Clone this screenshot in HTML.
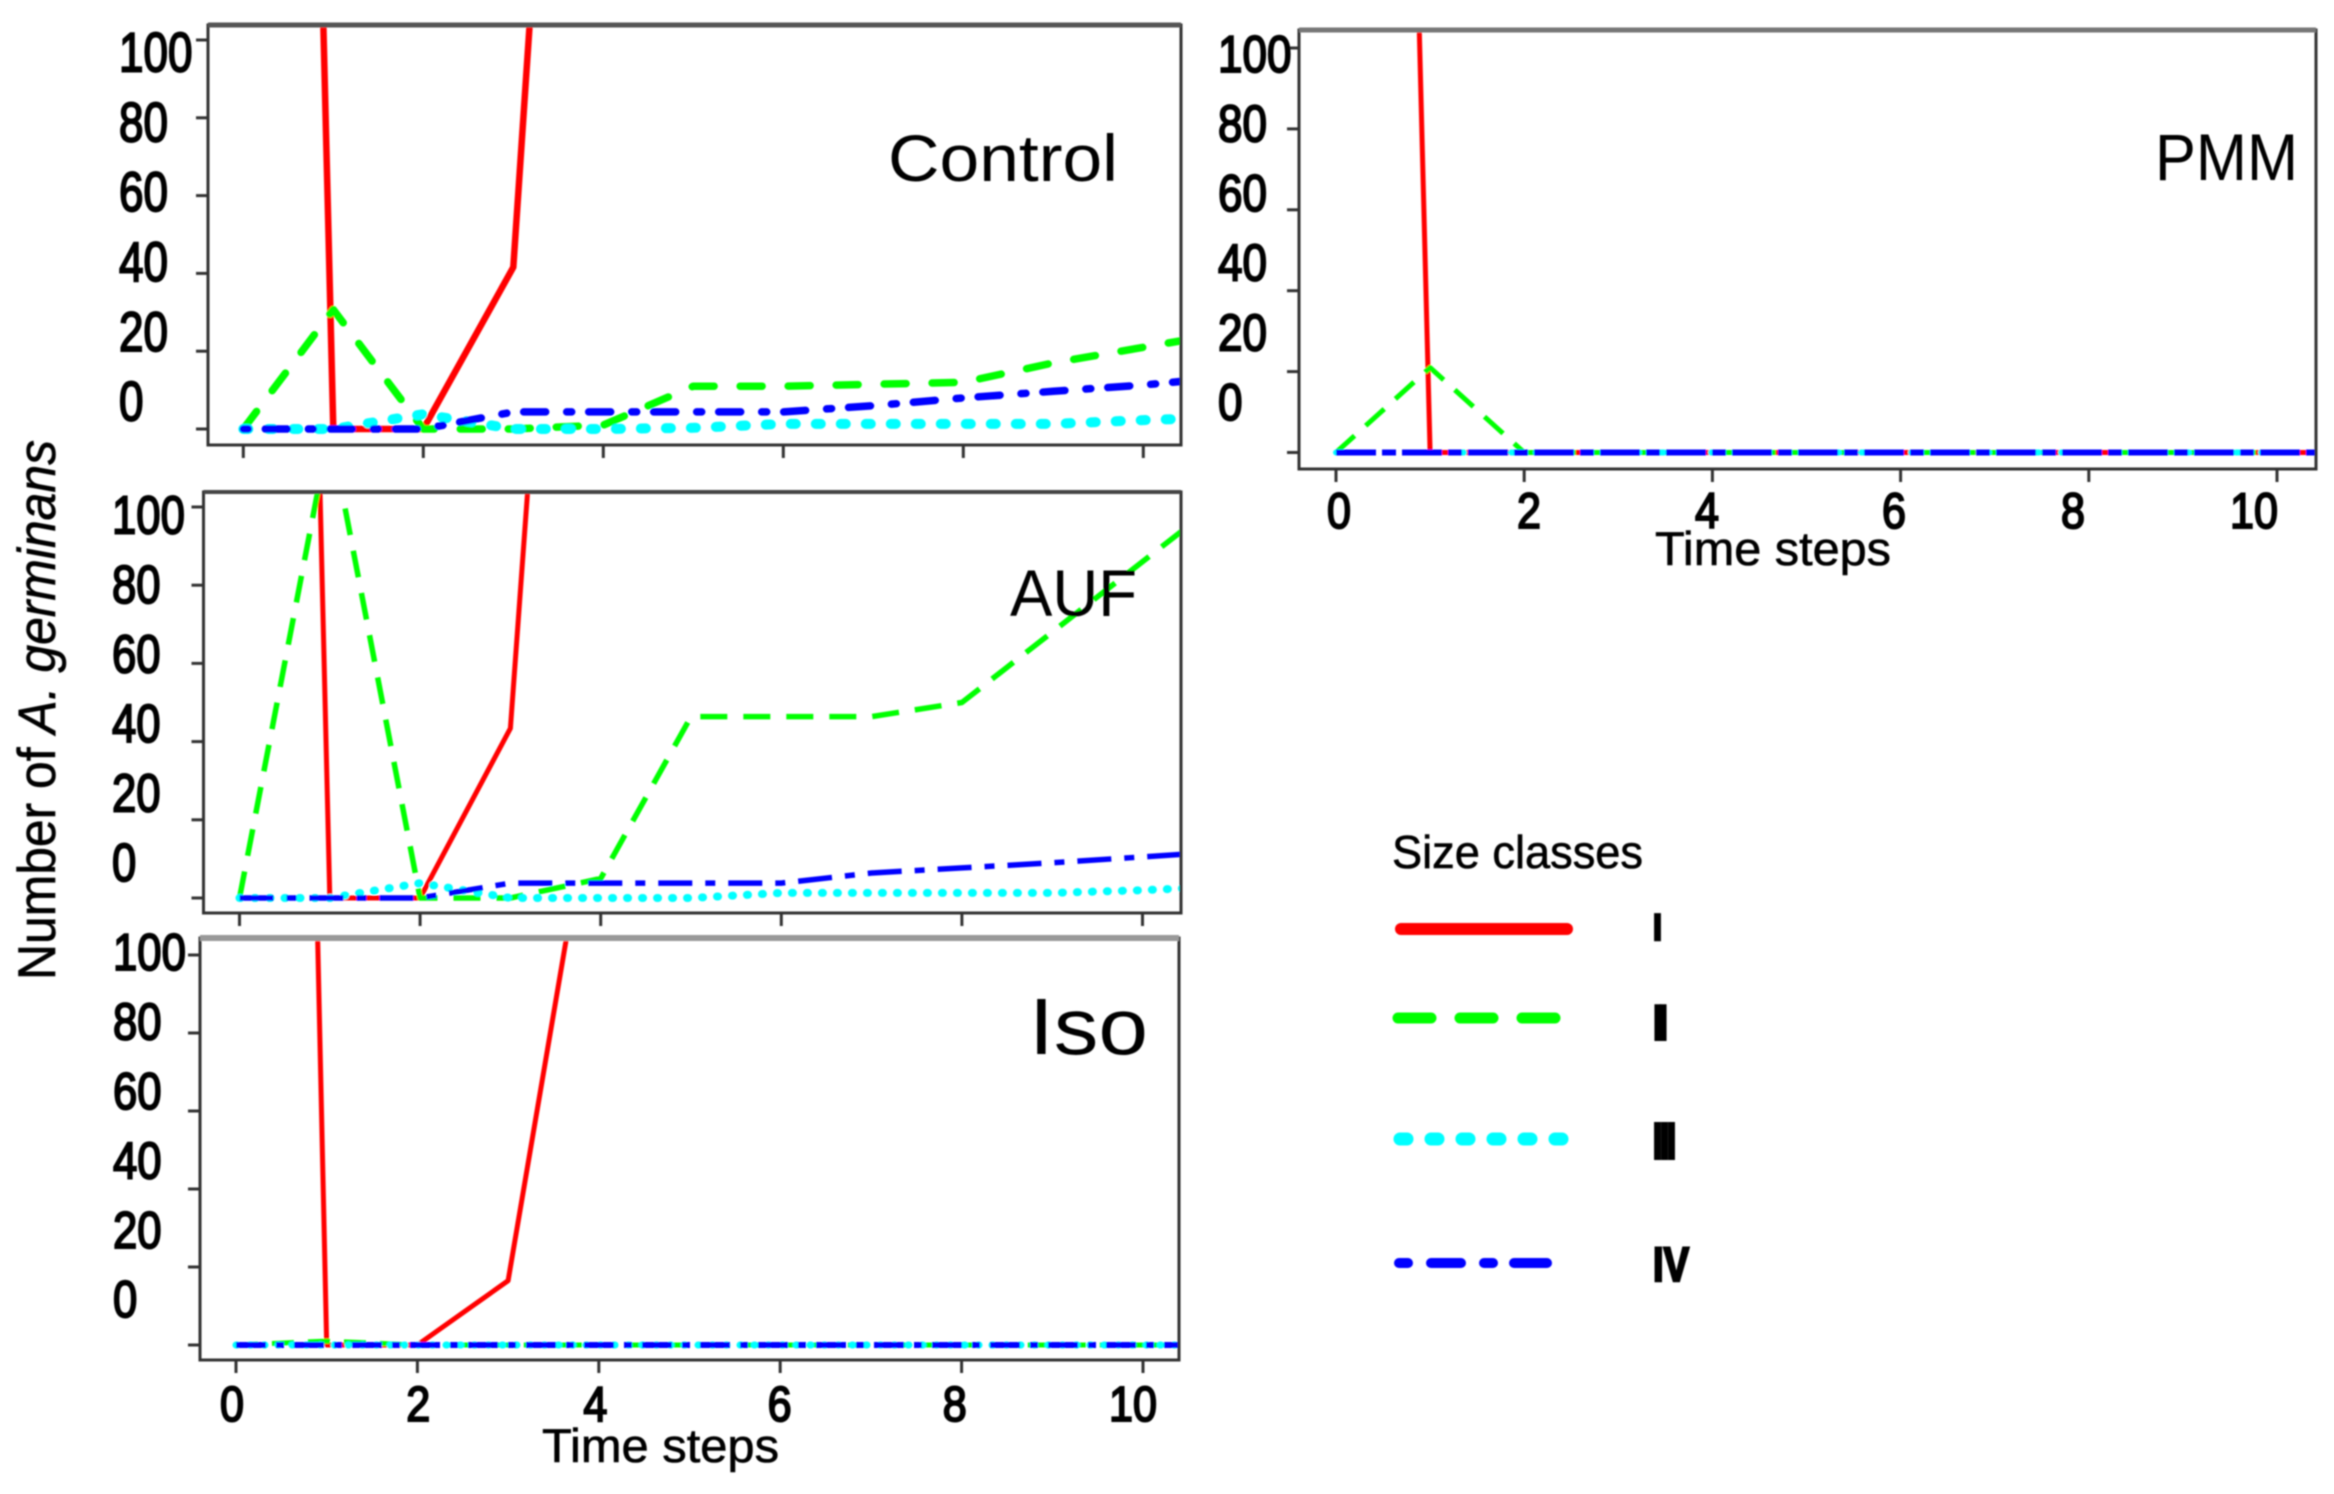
<!DOCTYPE html>
<html lang="en">
<head>
<meta charset="utf-8">
<title>Number of A. germinans over time steps</title>
<style>
html,body{margin:0;padding:0;background:#fff;}
#figure{display:block;width:2334px;height:1494px;}
text{font-family:"Liberation Sans",sans-serif;fill:#000;}
.num{font-family:"Liberation Sans Narrow","Liberation Sans",sans-serif;stroke:#000;stroke-width:2px;}
.ttl{stroke:#000;stroke-width:.6px;}
.rom{font-weight:bold;stroke:#000;}
</style>
</head>
<body>
<svg id="figure" xmlns="http://www.w3.org/2000/svg" width="2334" height="1494" viewBox="0 0 2334 1494">
  <defs>
    <filter id="soft" x="0" y="0" width="2334" height="1494" filterUnits="userSpaceOnUse"><feGaussianBlur stdDeviation="0.8"/></filter>
  </defs>
  <rect x="0" y="0" width="2334" height="1494" fill="#fff"/>
  <g id="root" filter="url(#soft)">
    <text class="ttl" transform="translate(55,980) rotate(-90)" font-size="53" textLength="540" lengthAdjust="spacingAndGlyphs">Number of <tspan font-style="italic">A. germinans</tspan></text>

    <g>
      <text class="ttl" x="1392" y="868" font-size="46" textLength="251" lengthAdjust="spacingAndGlyphs">Size classes</text>
      <line x1="1401" y1="929" x2="1567" y2="929" stroke="#ff0000" stroke-width="12" stroke-linecap="round"/>
      <line x1="1398" y1="1018" x2="1555" y2="1018" stroke="#00ff00" stroke-width="11" stroke-linecap="round" stroke-dasharray="33 29"/>
      <line x1="1400" y1="1139" x2="1562" y2="1139" stroke="#00ffff" stroke-width="13" stroke-linecap="round" stroke-dasharray="7 24"/>
      <path d="M1399 1263H1408M1431 1263H1461M1484 1263H1493M1514 1263H1547" fill="none" stroke="#0000ff" stroke-width="10" stroke-linecap="round"/>
      <text class="rom" x="1653" y="940" font-size="37" textLength="9" lengthAdjust="spacingAndGlyphs" style="stroke-width:2.5px">I</text>
      <text class="rom" x="1655" y="1037" font-size="42" textLength="11" lengthAdjust="spacingAndGlyphs" style="stroke-width:8px">II</text>
      <text class="rom" x="1654" y="1157" font-size="46" textLength="21" lengthAdjust="spacingAndGlyphs" style="stroke-width:6px">III</text>
      <text class="rom" x="1653" y="1281" font-size="48" textLength="36" lengthAdjust="spacingAndGlyphs" style="stroke-width:2.5px">IV</text>
    </g>
  </g>
</svg>
<script>
var timeSteps = [0, 1, 2, 3, 4, 5, 6, 7, 8, 9, 10, 11];
var yTickValues = [0, 20, 40, 60, 80, 100];
var xTickValues = [0, 2, 4, 6, 8, 10];

var controlClassI   = [940, 0, 0, 41.6, 385, 600, 700, 800, 900, 950, 1000, 1050];
var controlClassII  = [0, 30.7, 0, 0, 1, 11, 11, 11.5, 12, 17, 21, 25];
var controlClassIII = [0, 0, 3.8, 0, 0, 0.3, 1.3, 1.3, 1.3, 1.3, 2.3, 3];
var controlClassIV  = [0, 0, 0, 4.4, 4.4, 4.4, 4.4, 6, 8, 9.7, 11.3, 13.5];

var pmmClassI   = [908, 0, 0, 0, 0, 0, 0, 0, 0, 0, 0, 0];
var pmmClassII  = [0, 21, 0, 0, 0, 0, 0, 0, 0, 0, 0, 0];
var pmmClassIII = [0, 0, 0, 0, 0, 0, 0, 0, 0, 0, 0, 0];
var pmmClassIV  = [0, 0, 0, 0, 0, 0, 0, 0, 0, 0, 0, 0];

var aufClassI   = [960, 0, 0, 43.4, 361, 600, 700, 800, 900, 950, 1000, 1050];
var aufClassII  = [0, 120, 0, 0, 5, 46.4, 46.4, 46.4, 50, 68, 86, 104];
var aufClassIII = [0, 0, 3.8, 0, 0, 0, 1.3, 1.3, 1.3, 1.3, 2, 3];
var aufClassIV  = [0, 0, 0, 3.8, 3.8, 3.8, 3.8, 6.4, 7.7, 9, 10.5, 12];

var isoClassI   = [1045, 0, 0, 16.5, 153, 300, 400, 500, 600, 700, 800, 900];
var isoClassII  = [0, 1, 0, 0, 0, 0, 0, 0, 0, 0, 0, 0];
var isoClassIII = [0, 0, 0, 0, 0, 0, 0, 0, 0, 0, 0, 0];
var isoClassIV  = [0, 0, 0, 0, 0, 0, 0, 0, 0, 0, 0, 0];

var NS = 'http://www.w3.org/2000/svg';
var root = document.getElementById('root');
var defs = document.querySelector('defs');

function make(tag, attrs, parent) {
  var el = document.createElementNS(NS, tag);
  for (var k in attrs) { el.setAttribute(k, attrs[k]); }
  parent.appendChild(el);
  return el;
}

var classStyles = [
  { key: 'i',   color: '#ff0000', dash: null },
  { key: 'ii',  color: '#00ff00', dash: 'green' },
  { key: 'iii', color: '#00ffff', dash: 'cyan' },
  { key: 'iv',  color: '#0000ff', dash: 'blue' }
];

var panels = [
  { id: 'control', name: 'Control', series: [controlClassI, controlClassII, controlClassIII, controlClassIV],
    l: 208, r: 1181, t: 25, b: 445, topW: 5, topC: '#555',
    x0: 243.3, xk: 90, y0: 429, yk: 3.89,
    lx: 119, ly0: 401, lyk: 3.49, fs: 56, dw: 24.5, showX: false, lw: 7.5, rw: 6.5, bw: 7.5, cw: 10,
    dashes: { green: '22 26', cyan: '5 20', blue: '5 17 22 21' }, caps: true,
    title: { x: 888, y: 181, fs: 66, w: 230 } },
  { id: 'pmm', name: 'PMM', series: [pmmClassI, pmmClassII, pmmClassIII, pmmClassIV],
    l: 1299, r: 2316, t: 30, b: 469, topW: 5, topC: '#777',
    x0: 1336, xk: 94.1, y0: 452.5, yk: 4.045,
    lx: 1218, ly0: 401.7, lyk: 3.48, fs: 52, dw: 24.5, showX: true, lw: 5, rw: 5, bw: 6, cw: 6,
    xlx0: 1339, xlk: 91.5, xly: 528, xfs: 50, xdw: 24, xln: [0, 7, 2, 6, 2, 0],
    xt: { x: 1655, y: 565, w: 236 },
    dashes: { green: '25 15', cyan: '3 22', blue: '40 6 14 6' }, caps: false,
    title: { x: 2155, y: 180, fs: 66, w: 143 } },
  { id: 'auf', name: 'AUF', series: [aufClassI, aufClassII, aufClassIII, aufClassIV],
    l: 203.5, r: 1181, t: 492, b: 913, topW: 4, topC: '#444',
    x0: 239.5, xk: 90.3, y0: 898, yk: 3.91,
    lx: 112, ly0: 862, lyk: 3.475, fs: 54, dw: 24.3, showX: false, lw: 5.5, rw: 5, bw: 5.5, cw: 8,
    dashes: { green: '27 16', cyan: '1 14', blue: '34 13 10 13' }, caps: false,
    title: { x: 1010, y: 616, fs: 66, w: 127 } },
  { id: 'iso', name: 'Iso', series: [isoClassI, isoClassII, isoClassIII, isoClassIV],
    l: 200, r: 1179, t: 938, b: 1360, topW: 6, topC: '#999',
    x0: 236, xk: 90.7, y0: 1345, yk: 3.9,
    lx: 113, ly0: 1299, lyk: 3.47, fs: 52, dw: 24.3, showX: true, lw: 5, rw: 5, bw: 6, cw: 7,
    xlx0: 232, xlk: 90.1, xly: 1421, xfs: 49, xdw: 24, xln: [0, 6, 3, 7, 2, 0],
    xt: { x: 542, y: 1462, w: 237 },
    dashes: { green: '22 14', cyan: '1 13', blue: '30 10 8 10' }, caps: false,
    title: { x: 1029, y: 1054, fs: 80, w: 119 } }
];

panels.forEach(function (p) {
  var xScale = function (v) { return p.x0 + p.xk * v; };
  var yScale = function (v) { return p.y0 - p.yk * v; };
  var yLabelPos = function (v) { return p.ly0 - p.lyk * v; };
  var xLabelPos = function (v, idx) { return p.xlx0 + p.xlk * v + p.xln[idx]; };

  var g = make('g', {}, root);
  
  

  var clip = make('clipPath', { id: 'clip-' + p.id }, defs);
  make('rect', { x: p.l, y: p.t, width: p.r - p.l, height: p.b - p.t }, clip);

  var seriesGroup = make('g', { 'clip-path': 'url(#clip-' + p.id + ')' }, g);
  
  

  p.series.forEach(function (values, i) {
    var st = classStyles[i];
    var pts = values.map(function (v, j) {
      return xScale(timeSteps[j]).toFixed(1) + ',' + yScale(v).toFixed(1);
    }).join(' ');
    var line = make('polyline', {
      points: pts, fill: 'none', stroke: st.color, 'stroke-width': p.lw,
      'stroke-linejoin': 'round'
    }, seriesGroup);
    if (st.dash) { line.setAttribute('stroke-dasharray', p.dashes[st.dash]); }
    if (st.dash && p.caps) { line.setAttribute('stroke-linecap', 'round'); }
    if (st.key === 'i') { line.setAttribute('stroke-width', p.rw); }
    if (st.key === 'iv') { line.setAttribute('stroke-width', p.bw); }
    if (st.dash === 'cyan') { line.setAttribute('stroke-linecap', 'round'); line.setAttribute('stroke-width', p.cw); }
    
    
  });

  var frame = make('rect', { x: p.l, y: p.t, width: p.r - p.l, height: p.b - p.t, fill: 'none', stroke: '#333', 'stroke-width': 3 }, g);
  
  

  var topBar = make('line', { x1: p.l, x2: p.r, y1: p.t, y2: p.t, stroke: p.topC, 'stroke-width': p.topW }, g);
  
  

  yTickValues.forEach(function (v) {
    var t = make('line', { x1: p.l - 12, x2: p.l, y1: yScale(v), y2: yScale(v), stroke: '#333', 'stroke-width': 3 }, g);
    
    
    var s = String(v);
    var lab = make('text', {
      x: p.lx, y: yLabelPos(v) + p.fs * 0.35, 'font-size': p.fs, 'class': 'num',
      textLength: s.length * p.dw, lengthAdjust: 'spacingAndGlyphs'
    }, g);
    lab.textContent = s;
    
    
  });

  xTickValues.forEach(function (v, idx) {
    var t = make('line', { x1: xScale(v), x2: xScale(v), y1: p.b, y2: p.b + 13, stroke: '#333', 'stroke-width': 3 }, g);
    
    
    if (p.showX) {
      var s = String(v);
      var lab = make('text', {
        x: xLabelPos(v, idx), y: p.xly, 'font-size': p.xfs, 'class': 'num', 'text-anchor': 'middle',
        textLength: s.length * p.xdw, lengthAdjust: 'spacingAndGlyphs'
      }, g);
      lab.textContent = s;
      
      
    }
  });

  if (p.xt) {
    var xt = make('text', {
      x: p.xt.x, y: p.xt.y, 'font-size': 47, 'class': 'ttl',
      textLength: p.xt.w, lengthAdjust: 'spacingAndGlyphs'
    }, g);
    xt.textContent = 'Time steps';
    
    
  }

  var title = make('text', {
    x: p.title.x, y: p.title.y, 'font-size': p.title.fs,
    textLength: p.title.w, lengthAdjust: 'spacingAndGlyphs'
  }, g);
  title.textContent = p.name;
  
  
});
</script>
</body>
</html>
